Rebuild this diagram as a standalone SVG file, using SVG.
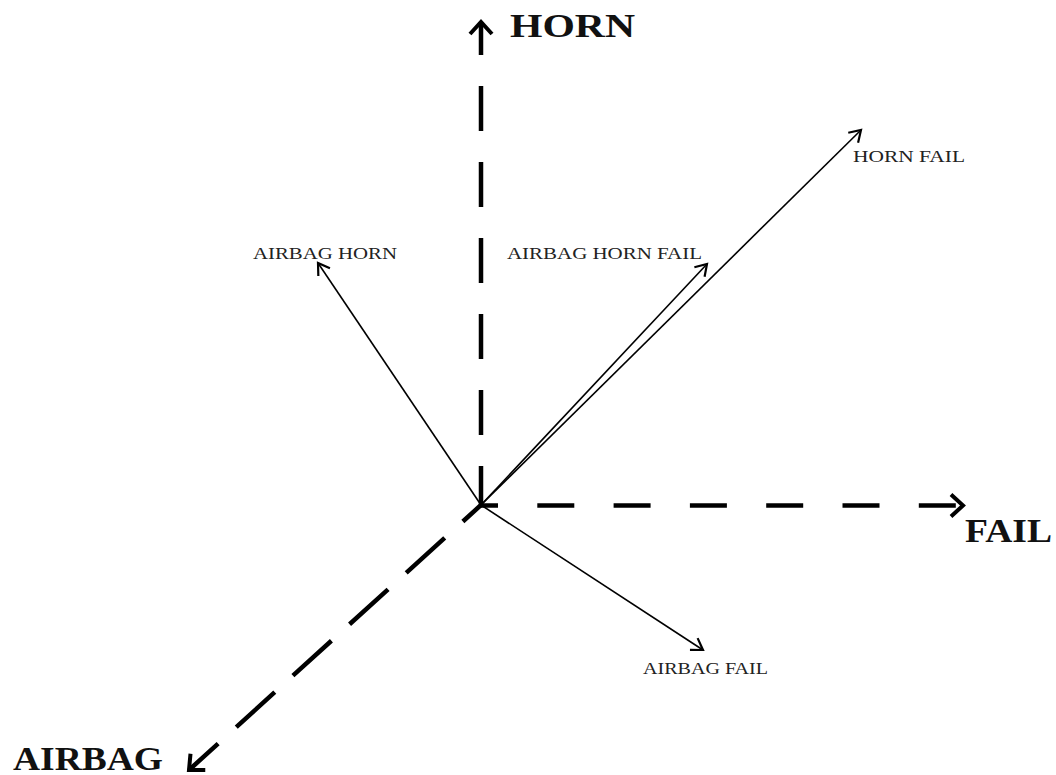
<svg xmlns="http://www.w3.org/2000/svg" width="1056" height="775" viewBox="0 0 1056 775">
<defs>
<style>
.axis{stroke:#000;stroke-width:4.5;fill:none;stroke-linecap:butt}
.vec{stroke:#000;stroke-width:1.6;fill:none}
.big{font-family:"Liberation Serif",serif;font-weight:bold;font-size:33px;fill:#111}
.small{font-family:"Liberation Serif",serif;font-size:16px;fill:#222}
</style>
<marker id="ah-axis" markerUnits="userSpaceOnUse" markerWidth="30" markerHeight="30" viewBox="-16 -15 20 30" refX="0" refY="0" orient="auto">
<path d="M-12,-11 L0,0 L-12,11" fill="none" stroke="#000" stroke-width="4"/>
</marker>
<marker id="ah-vec" markerUnits="userSpaceOnUse" markerWidth="24" markerHeight="24" viewBox="-14 -12 16 24" refX="0" refY="0" orient="auto">
<path d="M-11,-7 L0,0 L-11,7" fill="none" stroke="#000" stroke-width="2.2"/>
</marker>
</defs>
<rect width="1056" height="775" fill="#fff"/>
<g id="connectors">
<line id="axis-horn" class="axis" x1="481" y1="505" x2="481" y2="22" stroke-dasharray="45 31" stroke-dashoffset="6" marker-end="url(#ah-axis)"/>
<line id="axis-fail" class="axis" x1="481" y1="505.5" x2="963" y2="505.5" stroke-dasharray="37 39.3" stroke-dashoffset="20" marker-end="url(#ah-axis)"/>
<line id="axis-airbag" class="axis" x1="481" y1="505" x2="189" y2="770" stroke-dasharray="52 24.5" stroke-dashoffset="27.5" marker-end="url(#ah-axis)"/>
<line id="v-airbag-horn" class="vec" x1="481" y1="505" x2="318" y2="263" marker-end="url(#ah-vec)"/>
<line id="v-airbag-horn-fail" class="vec" x1="481" y1="505" x2="707" y2="264" marker-end="url(#ah-vec)"/>
<line id="v-horn-fail" class="vec" x1="481" y1="505" x2="861" y2="130" marker-end="url(#ah-vec)"/>
<line id="v-airbag-fail" class="vec" x1="481" y1="505" x2="703" y2="650" marker-end="url(#ah-vec)"/>
</g>
<g id="label-horn"><text class="big" x="510" y="37" textLength="125" lengthAdjust="spacingAndGlyphs">HORN</text></g>
<g id="label-fail"><text class="big" x="965" y="542" textLength="87" lengthAdjust="spacingAndGlyphs">FAIL</text></g>
<g id="label-airbag"><text class="big" x="13" y="770" textLength="150" lengthAdjust="spacingAndGlyphs">AIRBAG</text></g>
<g id="label-airbag-horn"><text class="small" x="253" y="259" textLength="144" lengthAdjust="spacingAndGlyphs">AIRBAG HORN</text></g>
<g id="label-airbag-horn-fail"><text class="small" x="507" y="259" textLength="195" lengthAdjust="spacingAndGlyphs">AIRBAG HORN FAIL</text></g>
<g id="label-horn-fail"><text class="small" x="853" y="162" textLength="112" lengthAdjust="spacingAndGlyphs">HORN FAIL</text></g>
<g id="label-airbag-fail"><text class="small" x="643" y="674" textLength="125" lengthAdjust="spacingAndGlyphs">AIRBAG FAIL</text></g>
</svg>
